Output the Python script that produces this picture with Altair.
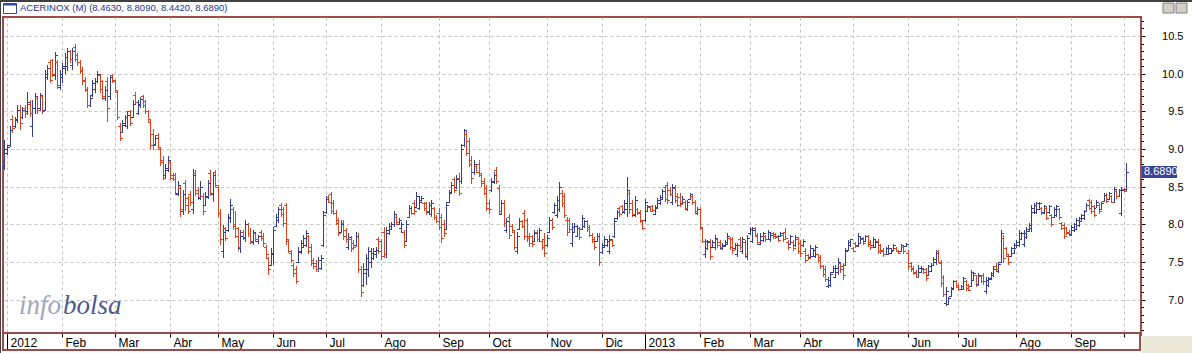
import altair as alt
import pandas as pd

# ---------------- text ----------------
title_text = "ACERINOX (M) (8.4630, 8.8090, 8.4420, 8.6890)"
last_close = 8.689
last_label = "8.6890"
wm_info = "info"
wm_bolsa = "bolsa"

# ---------------- OHLC sessions: (high, low, open, close) ----------------
# 30 Dec 2011 - 17 Feb 2012
seg_01 = [
    (9.12, 8.72, 8.78, 9.00), (9.05, 8.92, 8.95, 9.02), (9.30, 9.03, 9.05, 9.25), (9.45, 9.21, 9.40, 9.28),
    (9.43, 9.28, 9.30, 9.40), (9.58, 9.34, 9.38, 9.52), (9.58, 9.25, 9.52, 9.35), (9.56, 9.40, 9.42, 9.52),
    (9.58, 9.41, 9.55, 9.48), (9.76, 9.45, 9.50, 9.62), (9.65, 9.43, 9.60, 9.48), (9.65, 9.16, 9.30, 9.55),
    (9.74, 9.47, 9.55, 9.70), (9.70, 9.47, 9.68, 9.52), (9.74, 9.50, 9.55, 9.72), (9.72, 9.47, 9.70, 9.50),
    (10.05, 9.50, 9.52, 10.00), (10.11, 9.92, 9.95, 10.08), (10.18, 9.87, 10.15, 9.92), (10.20, 9.96, 10.18, 10.00),
    (10.29, 9.92, 9.98, 10.25), (10.18, 9.80, 10.15, 9.85), (10.05, 9.78, 9.82, 10.00), (10.14, 9.87, 9.95, 10.10),
    (10.27, 10.00, 10.08, 10.22), (10.34, 10.03, 10.10, 10.30), (10.31, 10.14, 10.30, 10.20), (10.34, 10.05, 10.12, 10.30),
    (10.40, 10.16, 10.35, 10.20), (10.27, 10.10, 10.25, 10.15), (10.18, 10.00, 10.15, 10.03), (10.09, 9.85, 10.05, 9.90),
    (9.96, 9.75, 9.92, 9.80), (9.82, 9.54, 9.78, 9.58), (9.72, 9.56, 9.58, 9.68), (9.92, 9.69, 9.72, 9.88),
    (9.94, 9.74, 9.80, 9.90),
]
# Feb - Apr 2012
seg_02 = [
    (10.03, 9.87, 9.90, 10.00), (10.00, 9.74, 9.98, 9.80), (9.92, 9.65, 9.90, 9.70), (9.83, 9.63, 9.68, 9.78),
    (9.96, 9.36, 9.90, 9.55), (9.98, 9.65, 9.70, 9.95), (10.00, 9.87, 9.98, 9.92), (9.92, 9.74, 9.90, 9.78),
    (9.78, 9.38, 9.75, 9.42), (9.34, 9.10, 9.30, 9.15), (9.38, 9.21, 9.22, 9.35), (9.45, 9.30, 9.32, 9.42),
    (9.50, 9.27, 9.30, 9.45), (9.52, 9.30, 9.50, 9.35), (9.65, 9.41, 9.42, 9.60), (9.76, 9.58, 9.72, 9.62),
    (9.65, 9.45, 9.48, 9.60), (9.69, 9.54, 9.58, 9.66), (9.72, 9.54, 9.70, 9.58), (9.65, 9.47, 9.63, 9.50),
    (9.52, 9.36, 9.50, 9.40), (9.39, 9.00, 9.36, 9.05), (9.27, 8.99, 9.20, 9.05), (9.18, 9.05, 9.07, 9.15),
    (9.21, 8.99, 9.18, 9.02), (9.02, 8.78, 9.00, 8.82), (8.90, 8.59, 8.85, 8.62), (8.80, 8.62, 8.65, 8.75),
    (8.90, 8.70, 8.72, 8.85), (8.85, 8.59, 8.82, 8.62), (8.68, 8.57, 8.66, 8.60), (8.68, 8.39, 8.65, 8.42),
    (8.57, 8.37, 8.40, 8.52), (8.52, 8.10, 8.48, 8.20), (8.45, 8.12, 8.18, 8.40), (8.59, 8.17, 8.55, 8.25),
    (8.37, 8.13, 8.35, 8.18), (8.44, 8.24, 8.40, 8.30), (8.74, 8.14, 8.20, 8.65), (8.72, 8.37, 8.68, 8.42),
    (8.50, 8.32, 8.45, 8.36),
]
# Apr - Jun 2012
seg_03 = [
    (8.57, 8.32, 8.35, 8.50), (8.41, 8.12, 8.38, 8.18), (8.43, 8.24, 8.26, 8.38), (8.59, 8.34, 8.36, 8.55),
    (8.72, 8.37, 8.68, 8.42), (8.70, 8.30, 8.40, 8.65), (8.72, 8.50, 8.70, 8.52), (8.52, 8.10, 8.50, 8.15),
    (8.20, 7.72, 8.15, 7.80), (7.99, 7.55, 7.65, 7.90), (7.97, 7.78, 7.95, 7.82), (8.14, 7.90, 7.92, 8.10),
    (8.33, 8.01, 8.08, 8.25), (8.23, 7.92, 8.20, 7.98), (8.18, 7.82, 8.00, 7.85), (7.97, 7.64, 7.95, 7.70),
    (7.92, 7.62, 7.68, 7.85), (7.92, 7.79, 7.90, 7.83), (8.06, 7.76, 7.82, 8.00), (8.01, 7.83, 8.00, 7.88),
    (7.95, 7.74, 7.88, 7.78), (7.92, 7.73, 7.76, 7.90), (7.90, 7.76, 7.88, 7.80), (7.86, 7.74, 7.78, 7.84),
    (7.92, 7.78, 7.90, 7.82), (7.88, 7.70, 7.85, 7.75), (7.72, 7.55, 7.70, 7.60), (7.57, 7.33, 7.55, 7.40),
    (7.68, 7.44, 7.46, 7.62), (7.97, 7.46, 7.60, 7.92), (8.14, 7.97, 7.98, 8.10), (8.23, 8.01, 8.05, 8.20),
    (8.28, 8.10, 8.26, 8.14), (8.23, 7.97, 8.20, 8.02), (8.28, 7.72, 8.25, 7.80), (7.80, 7.62, 7.78, 7.65),
    (7.66, 7.48, 7.62, 7.52), (7.48, 7.30, 7.46, 7.35), (7.44, 7.21, 7.40, 7.25),
]
# Jun - Aug 2012
seg_04 = [
    (7.70, 7.48, 7.50, 7.65), (7.79, 7.61, 7.63, 7.75), (7.86, 7.68, 7.70, 7.82), (7.92, 7.70, 7.72, 7.88),
    (7.86, 7.61, 7.85, 7.65), (7.74, 7.44, 7.70, 7.48), (7.55, 7.41, 7.52, 7.45), (7.52, 7.37, 7.48, 7.40),
    (7.57, 7.37, 7.40, 7.52), (7.59, 7.39, 7.42, 7.55), (8.17, 7.70, 7.72, 8.12), (8.37, 8.14, 8.16, 8.34),
    (8.39, 8.28, 8.36, 8.30), (8.43, 8.14, 8.40, 8.18), (8.32, 8.12, 8.28, 8.15), (8.19, 7.99, 8.15, 8.02),
    (8.08, 7.84, 8.05, 7.88), (8.06, 7.88, 7.90, 8.00), (8.06, 7.79, 8.02, 7.85), (7.95, 7.75, 7.92, 7.80),
    (7.88, 7.66, 7.70, 7.83), (7.85, 7.63, 7.80, 7.68), (7.79, 7.66, 7.75, 7.70), (7.90, 7.70, 7.72, 7.85),
    (7.88, 7.35, 7.85, 7.40), (7.44, 7.04, 7.40, 7.10), (7.48, 7.17, 7.20, 7.40), (7.61, 7.19, 7.35, 7.55),
    (7.70, 7.30, 7.40, 7.65), (7.68, 7.42, 7.50, 7.62), (7.68, 7.52, 7.55, 7.65), (7.70, 7.55, 7.60, 7.66),
    (7.83, 7.61, 7.80, 7.65), (7.80, 7.52, 7.78, 7.58), (7.97, 7.55, 7.90, 7.60), (7.97, 7.55, 7.60, 7.92),
    (8.01, 7.86, 7.88, 7.98), (8.03, 7.92, 7.94, 8.00), (8.17, 7.97, 8.00, 8.14), (8.12, 7.99, 8.10, 8.03),
    (8.08, 7.99, 8.00, 8.06),
]
# Aug - Oct 2012
seg_05 = [
    (8.03, 7.88, 7.95, 8.00), (7.92, 7.68, 7.90, 7.72), (8.06, 7.77, 7.78, 8.00), (8.26, 8.08, 8.10, 8.22),
    (8.24, 8.12, 8.22, 8.15), (8.32, 8.12, 8.28, 8.18), (8.43, 8.21, 8.23, 8.38), (8.37, 8.19, 8.22, 8.32),
    (8.37, 8.28, 8.30, 8.35), (8.30, 8.17, 8.28, 8.22), (8.30, 8.12, 8.28, 8.18), (8.30, 8.14, 8.16, 8.26),
    (8.32, 8.10, 8.14, 8.28), (8.23, 8.06, 8.22, 8.10), (8.12, 8.01, 8.10, 8.04), (8.21, 7.92, 8.15, 7.96),
    (8.14, 7.75, 8.10, 7.82), (8.06, 7.83, 8.00, 7.88), (8.30, 7.92, 7.94, 8.26), (8.45, 8.28, 8.30, 8.42),
    (8.56, 8.41, 8.43, 8.52), (8.63, 8.41, 8.60, 8.45), (8.65, 8.47, 8.50, 8.60), (8.68, 8.37, 8.62, 8.42),
    (9.07, 8.54, 8.58, 9.00), (9.27, 9.03, 9.05, 9.25), (9.25, 8.90, 9.20, 8.95), (9.14, 8.76, 9.10, 8.80),
    (8.90, 8.54, 8.85, 8.62), (8.85, 8.65, 8.70, 8.80), (8.80, 8.68, 8.78, 8.70), (8.85, 8.63, 8.80, 8.68),
    (8.68, 8.50, 8.65, 8.55), (8.61, 8.39, 8.58, 8.42), (8.52, 8.17, 8.48, 8.22), (8.32, 8.14, 8.28, 8.20),
    (8.61, 8.43, 8.45, 8.58), (8.70, 8.54, 8.56, 8.66), (8.76, 8.54, 8.72, 8.58),
]
# Oct - Nov 2012
seg_06 = [
    (8.52, 8.14, 8.48, 8.18), (8.32, 8.12, 8.14, 8.28), (8.32, 7.97, 8.28, 8.02), (8.08, 7.88, 7.92, 8.04),
    (8.14, 7.81, 8.10, 7.86), (8.00, 7.90, 7.98, 7.93), (7.92, 7.66, 7.90, 7.70), (7.90, 7.61, 7.65, 7.85),
    (8.08, 7.92, 7.94, 8.04), (8.06, 7.95, 8.04, 7.98), (8.19, 7.79, 8.15, 7.85), (8.08, 7.77, 8.05, 7.82),
    (7.88, 7.70, 7.85, 7.75), (7.86, 7.70, 7.84, 7.74), (7.92, 7.77, 7.78, 7.88), (7.92, 7.77, 7.90, 7.80),
    (7.95, 7.77, 7.80, 7.92), (7.79, 7.66, 7.78, 7.70), (7.88, 7.57, 7.80, 7.62), (7.86, 7.70, 7.72, 7.82),
    (8.10, 7.88, 7.90, 8.06), (8.08, 7.92, 8.05, 7.96), (8.28, 8.14, 8.16, 8.25), (8.37, 8.08, 8.12, 8.32),
    (8.56, 8.16, 8.20, 8.50), (8.45, 8.23, 8.42, 8.28), (8.41, 8.08, 8.38, 8.12), (8.10, 7.84, 8.06, 7.90),
    (8.08, 7.90, 8.05, 7.94), (8.01, 7.70, 7.75, 7.96), (8.01, 7.88, 7.90, 7.98), (7.99, 7.83, 7.85, 7.95),
    (7.97, 7.79, 7.95, 7.83), (8.12, 7.92, 7.94, 8.08), (8.06, 7.95, 7.98, 8.04), (8.06, 7.90, 8.04, 7.94),
    (7.99, 7.83, 7.96, 7.86), (7.88, 7.75, 7.86, 7.78), (7.83, 7.66, 7.80, 7.70), (7.88, 7.77, 7.78, 7.85),
    (7.88, 7.44, 7.85, 7.50),
]
# Dec 2012 - Jan 2013
seg_07 = [
    (7.75, 7.61, 7.63, 7.72), (7.84, 7.68, 7.70, 7.80), (7.81, 7.70, 7.72, 7.78), (7.86, 7.61, 7.65, 7.80),
    (7.81, 7.70, 7.79, 7.73), (8.08, 7.82, 7.85, 8.04), (8.19, 8.06, 8.08, 8.16), (8.23, 8.10, 8.21, 8.14),
    (8.26, 8.14, 8.24, 8.17), (8.32, 8.14, 8.16, 8.28), (8.63, 8.10, 8.20, 8.45), (8.45, 8.14, 8.42, 8.20),
    (8.32, 8.10, 8.28, 8.14), (8.37, 8.10, 8.12, 8.32), (8.21, 8.12, 8.20, 8.15), (8.19, 8.01, 8.16, 8.05),
    (8.06, 7.92, 8.04, 7.95), (8.33, 8.03, 8.05, 8.30), (8.26, 8.16, 8.18, 8.24), (8.24, 8.16, 8.23, 8.18),
    (8.26, 8.16, 8.24, 8.19), (8.26, 8.12, 8.14, 8.22), (8.35, 8.21, 8.23, 8.32), (8.39, 8.26, 8.28, 8.36),
    (8.47, 8.32, 8.34, 8.44), (8.52, 8.30, 8.50, 8.34), (8.56, 8.27, 8.52, 8.32), (8.50, 8.37, 8.46, 8.40),
    (8.54, 8.26, 8.30, 8.50), (8.52, 8.28, 8.48, 8.32), (8.41, 8.23, 8.38, 8.26), (8.41, 8.23, 8.36, 8.27),
    (8.37, 8.26, 8.28, 8.34), (8.32, 8.19, 8.30, 8.22), (8.32, 8.17, 8.20, 8.30), (8.41, 8.32, 8.33, 8.40),
    (8.39, 8.26, 8.38, 8.30), (8.32, 8.14, 8.30, 8.18), (8.23, 8.12, 8.15, 8.20), (8.23, 7.92, 8.20, 7.96),
    (7.97, 7.75, 7.95, 7.78),
]
# Feb - Mar 2013
seg_08 = [
    (7.81, 7.55, 7.60, 7.78), (7.79, 7.66, 7.68, 7.76), (7.81, 7.52, 7.78, 7.58), (7.79, 7.68, 7.70, 7.76),
    (7.86, 7.66, 7.70, 7.82), (7.81, 7.68, 7.80, 7.72), (7.79, 7.66, 7.77, 7.70), (7.75, 7.66, 7.68, 7.73),
    (7.79, 7.70, 7.71, 7.77), (7.88, 7.72, 7.74, 7.85), (7.83, 7.66, 7.82, 7.70), (7.83, 7.61, 7.80, 7.66),
    (7.75, 7.66, 7.68, 7.73), (7.75, 7.57, 7.60, 7.72), (7.83, 7.66, 7.80, 7.70), (7.83, 7.61, 7.65, 7.80),
    (7.79, 7.55, 7.76, 7.60), (7.86, 7.52, 7.58, 7.82), (7.97, 7.86, 7.88, 7.94), (7.97, 7.75, 7.78, 7.92),
    (7.97, 7.84, 7.95, 7.86), (7.88, 7.72, 7.85, 7.76), (7.88, 7.72, 7.74, 7.85), (7.90, 7.77, 7.79, 7.88),
    (7.86, 7.77, 7.85, 7.80), (7.92, 7.79, 7.81, 7.90), (7.88, 7.77, 7.80, 7.86), (7.90, 7.81, 7.89, 7.84),
    (7.88, 7.81, 7.87, 7.83), (7.86, 7.77, 7.85, 7.79), (7.90, 7.83, 7.84, 7.88), (7.88, 7.77, 7.86, 7.80),
    (7.95, 7.79, 7.90, 7.82), (7.79, 7.66, 7.77, 7.70), (7.86, 7.72, 7.74, 7.84), (7.79, 7.64, 7.77, 7.68),
    (7.86, 7.70, 7.72, 7.83), (7.83, 7.61, 7.80, 7.65), (7.79, 7.57, 7.75, 7.62),
]
# Apr - May 2013
seg_09 = [
    (7.81, 7.70, 7.72, 7.78), (7.68, 7.48, 7.65, 7.52), (7.61, 7.52, 7.59, 7.55), (7.72, 7.55, 7.57, 7.68),
    (7.68, 7.57, 7.58, 7.66), (7.72, 7.55, 7.58, 7.70), (7.61, 7.48, 7.60, 7.52), (7.59, 7.41, 7.57, 7.45),
    (7.46, 7.30, 7.44, 7.34), (7.44, 7.23, 7.40, 7.27), (7.30, 7.15, 7.18, 7.26), (7.37, 7.17, 7.20, 7.34),
    (7.44, 7.35, 7.36, 7.42), (7.46, 7.28, 7.30, 7.42), (7.55, 7.33, 7.36, 7.50), (7.50, 7.35, 7.48, 7.40),
    (7.48, 7.26, 7.45, 7.32), (7.68, 7.44, 7.46, 7.64), (7.79, 7.64, 7.66, 7.76), (7.81, 7.70, 7.72, 7.80),
    (7.70, 7.63, 7.69, 7.65), (7.77, 7.68, 7.75, 7.71), (7.88, 7.70, 7.72, 7.84), (7.84, 7.74, 7.75, 7.82),
    (7.83, 7.72, 7.80, 7.75), (7.86, 7.77, 7.78, 7.84), (7.86, 7.70, 7.84, 7.74), (7.79, 7.66, 7.77, 7.70),
    (7.83, 7.70, 7.72, 7.80), (7.79, 7.68, 7.70, 7.76), (7.81, 7.61, 7.78, 7.65), (7.74, 7.61, 7.72, 7.64),
    (7.68, 7.57, 7.66, 7.60), (7.70, 7.59, 7.60, 7.68), (7.72, 7.59, 7.61, 7.68), (7.68, 7.61, 7.62, 7.66),
    (7.74, 7.64, 7.65, 7.72), (7.70, 7.63, 7.69, 7.65), (7.66, 7.61, 7.65, 7.62), (7.74, 7.63, 7.64, 7.72),
]
# Jun - Jul 2013
seg_10 = [
    (7.72, 7.61, 7.70, 7.64), (7.75, 7.70, 7.71, 7.74), (7.66, 7.39, 7.62, 7.45), (7.50, 7.37, 7.48, 7.40),
    (7.44, 7.32, 7.42, 7.35), (7.39, 7.28, 7.37, 7.30), (7.46, 7.28, 7.30, 7.42), (7.44, 7.35, 7.36, 7.42),
    (7.42, 7.34, 7.41, 7.36), (7.42, 7.24, 7.40, 7.28), (7.46, 7.31, 7.33, 7.44), (7.48, 7.37, 7.38, 7.46),
    (7.57, 7.44, 7.46, 7.54), (7.66, 7.46, 7.50, 7.62), (7.66, 7.48, 7.64, 7.50), (7.52, 7.17, 7.48, 7.22),
    (7.33, 7.04, 7.30, 7.08), (7.17, 6.91, 6.95, 7.12), (7.04, 6.93, 6.94, 7.02), (7.17, 7.04, 7.05, 7.15),
    (7.26, 7.13, 7.14, 7.24), (7.26, 7.15, 7.24, 7.17), (7.21, 7.12, 7.20, 7.14), (7.20, 7.13, 7.14, 7.18),
    (7.30, 7.13, 7.14, 7.28), (7.26, 7.12, 7.24, 7.15), (7.21, 7.11, 7.20, 7.13), (7.39, 7.17, 7.18, 7.36),
    (7.37, 7.24, 7.26, 7.35), (7.33, 7.17, 7.32, 7.20), (7.35, 7.19, 7.21, 7.33), (7.33, 7.22, 7.31, 7.24),
    (7.35, 7.20, 7.33, 7.25), (7.30, 7.08, 7.12, 7.26), (7.30, 7.17, 7.20, 7.28), (7.37, 7.26, 7.27, 7.35),
    (7.44, 7.30, 7.32, 7.40), (7.48, 7.36, 7.45, 7.40), (7.50, 7.35, 7.38, 7.47), (7.92, 7.48, 7.50, 7.88),
]
# Jul - Sep 2013
seg_11 = [
    (7.86, 7.48, 7.82, 7.55), (7.70, 7.57, 7.68, 7.60), (7.61, 7.46, 7.58, 7.50), (7.70, 7.57, 7.58, 7.68),
    (7.75, 7.61, 7.62, 7.72), (7.79, 7.68, 7.69, 7.77), (7.92, 7.70, 7.72, 7.88), (7.90, 7.79, 7.80, 7.88),
    (7.92, 7.70, 7.74, 7.88), (7.97, 7.81, 7.83, 7.94), (8.01, 7.90, 7.91, 7.99), (8.26, 7.90, 7.95, 8.22),
    (8.28, 8.14, 8.16, 8.26), (8.30, 8.14, 8.16, 8.28), (8.30, 8.19, 8.20, 8.28), (8.23, 8.12, 8.22, 8.15),
    (8.26, 8.14, 8.16, 8.24), (8.23, 8.05, 8.22, 8.08), (8.26, 8.14, 8.16, 8.24), (8.14, 7.97, 8.12, 8.00),
    (8.23, 8.08, 8.10, 8.20), (8.26, 8.10, 8.12, 8.24), (8.21, 8.06, 8.20, 8.10), (8.03, 7.92, 8.02, 7.95),
    (8.01, 7.81, 7.99, 7.85), (7.97, 7.86, 7.95, 7.88), (7.92, 7.84, 7.90, 7.86), (7.99, 7.86, 7.87, 7.97),
    (8.01, 7.90, 7.92, 8.00), (8.08, 7.92, 7.94, 8.06), (8.10, 7.97, 7.99, 8.08), (8.14, 8.03, 8.04, 8.12),
    (8.19, 8.06, 8.08, 8.17), (8.28, 8.17, 8.18, 8.26), (8.34, 8.19, 8.32, 8.22), (8.32, 8.14, 8.30, 8.18),
    (8.26, 8.10, 8.24, 8.12), (8.32, 8.21, 8.22, 8.30), (8.28, 8.14, 8.26, 8.18),
]
# Sep - 2 Oct 2013
seg_12 = [
    (8.30, 8.19, 8.20, 8.28), (8.41, 8.30, 8.31, 8.39), (8.41, 8.28, 8.39, 8.31), (8.43, 8.32, 8.33, 8.41),
    (8.39, 8.28, 8.37, 8.30), (8.50, 8.28, 8.30, 8.47), (8.45, 8.34, 8.44, 8.37), (8.47, 8.36, 8.38, 8.45),
    (8.49, 8.11, 8.15, 8.46), (8.48, 8.43, 8.47, 8.44), (8.809, 8.442, 8.463, 8.689),
]

# ---------------- axes: month ticks (session index of first session of month) ----------------
month_tick_idx = [1, 23, 44, 66, 85, 107, 128, 150, 173, 193, 216, 238,
                  255, 277, 297, 317, 338, 360, 380, 403, 425, 446]
month_tick_lbl = ["2012", "Feb", "Mar", "Abr", "May", "Jun", "Jul", "Ago", "Sep", "Oct", "Nov", "Dic",
                  "2013", "Feb", "Mar", "Abr", "May", "Jun", "Jul", "Ago", "Sep", ""]
year_tick_idx = [1, 255]
price_levels = [7.0, 7.5, 8.0, 8.5, 9.0, 9.5, 10.0, 10.5]
minor_levels = [6.6, 6.7, 6.8, 6.9, 7.1, 7.2, 7.3, 7.4, 7.6, 7.7, 7.8, 7.9, 8.1, 8.2, 8.3, 8.4,
                8.6, 8.7, 8.8, 8.9, 9.1, 9.2, 9.3, 9.4, 9.6, 9.7, 9.8, 9.9, 10.1, 10.2, 10.3, 10.4,
                10.6, 10.7]

# ---------------- styling ----------------
BLUE = "#353E93"
RED = "#DA4520"
FRAME = "#9C4A4A"
GRID = "#C2C2C2"
FONT = "Liberation Sans"
W, H = 1138, 316
X_DOMAIN = [-0.594, 452.79]
Y_DOMAIN = [6.556, 10.752]

rows = seg_01 + seg_02 + seg_03 + seg_04 + seg_05 + seg_06 + seg_07 + seg_08 + seg_09 + seg_10 + seg_11 + seg_12
df = pd.DataFrame(rows, columns=["high", "low", "open", "close"])
df["idx"] = list(range(len(df)))
df["dir"] = ["up" if c >= o else "down" for o, c in zip(df["open"], df["close"])]

label_expr = "''"
for v, l in reversed(list(zip(month_tick_idx, month_tick_lbl))):
    label_expr = f"datum.value == {v} ? '{l}' : {label_expr}"

xs = alt.Scale(domain=X_DOMAIN, nice=False, zero=False, round=True)
ys = alt.Scale(domain=Y_DOMAIN, nice=False, zero=False, round=True)
color = alt.Color("dir:N", scale=alt.Scale(domain=["up", "down"], range=[BLUE, RED]), legend=None)

x_axis = alt.Axis(values=month_tick_idx, labelExpr=label_expr, grid=True, gridColor=GRID,
                  gridDash=[3, 3], gridWidth=1, tickColor="#000000", tickSize=4, tickWidth=1,
                  labelAlign="left", labelOffset=3, labelBaseline="top", labelPadding=0,
                  labelFont=FONT, labelFontSize=12, labelColor="#000000", labelFlush=False,
                  labelOverlap=False, domain=False, title=None)
y_axis = alt.Axis(orient="right", values=price_levels, format=".1f", grid=True, gridColor=GRID,
                  gridDash=[3, 3], gridWidth=1, tickColor="#000000", tickSize=4, tickWidth=1,
                  labelAlign="right", labelPadding=38, labelBaseline="middle", labelFont=FONT,
                  labelFontSize=11, labelColor="#000000", labelOverlap=False, domain=False, title=None)


def X(field):
    return alt.X(field, scale=xs, axis=x_axis)


def Y(field):
    return alt.Y(field, scale=ys, axis=y_axis)


base = alt.Chart(df)
hl = base.mark_rule(strokeWidth=1, xOffset=0.5).encode(
    x=X("idx:Q"), y=Y("low:Q"), y2="high:Q", color=color,
)
opens = base.transform_calculate(xo="datum.idx - 0.8").mark_rule(strokeWidth=1, yOffset=0.5).encode(
    x=X("xo:Q"), x2="idx:Q", y=Y("open:Q"), color=color,
)
closes = base.transform_calculate(xc="datum.idx + 1.2").mark_rule(strokeWidth=1, yOffset=0.5).encode(
    x=X("idx:Q"), x2="xc:Q", y=Y("close:Q"), color=color,
)

one = pd.DataFrame({"k": [0]})
minor = alt.Chart(pd.DataFrame({"level": minor_levels})).mark_rule(color="#000000", strokeWidth=1, yOffset=0.5).encode(
    x=alt.value(W), x2=alt.value(W + 3), y=Y("level:Q")
)
year_lines = alt.Chart(pd.DataFrame({"idx": year_tick_idx})).mark_rule(color="#000000", strokeWidth=1, xOffset=0.5).encode(
    x=X("idx:Q"), y=alt.value(H + 1), y2=alt.value(H + 17)
)
strip = alt.Chart(one).mark_rect(fillOpacity=0, stroke=FRAME, strokeWidth=2).encode(
    x=alt.value(0), x2=alt.value(W - 1), y=alt.value(H), y2=alt.value(H + 17)
)
corner = alt.Chart(one).mark_rect(fill="#ECE9D8").encode(
    x=alt.value(W + 1), x2=alt.value(W + 54), y=alt.value(H + 3), y2=alt.value(H + 20)
)
right_edge = alt.Chart(one).mark_rule(color=FRAME, strokeWidth=2).encode(
    x=alt.value(W), y=alt.value(0), y2=alt.value(H + 3)
)
top_line = alt.Chart(one).mark_rule(color="#404040", strokeWidth=2).encode(
    x=alt.value(-3), x2=alt.value(W + 54), y=alt.value(-16)
)
left_line = alt.Chart(one).mark_rule(color="#404040", strokeWidth=1).encode(
    x=alt.value(-2.5), y=alt.value(-17), y2=alt.value(H + 20)
)
icon = alt.Chart(one).mark_rect(fill="#FFFFFF", stroke="#2B4DA8", strokeWidth=1).encode(
    x=alt.value(0.5), x2=alt.value(13.5), y=alt.value(-13.5), y2=alt.value(-3.5)
)
icon_bar = alt.Chart(one).mark_rule(color="#2B4DA8", strokeWidth=2).encode(
    x=alt.value(0.5), x2=alt.value(13.5), y=alt.value(-12.5)
)
button1 = alt.Chart(one).mark_rect(fill="#D4D0C8", stroke="#808080", strokeWidth=1).encode(
    x=alt.value(1160), x2=alt.value(1171), y=alt.value(-14), y2=alt.value(-4)
)
button2 = alt.Chart(one).mark_rect(fill="#D4D0C8", stroke="#808080", strokeWidth=1).encode(
    x=alt.value(1173), x2=alt.value(1184), y=alt.value(-14), y2=alt.value(-4)
)
title = alt.Chart(pd.DataFrame({"t": [title_text]})).mark_text(
    align="left", baseline="alphabetic", font=FONT, fontSize=9.5, color="#27358A"
).encode(x=alt.value(17), y=alt.value(-6), text="t:N")

tag_df = pd.DataFrame({"close": [last_close], "t": [last_label]})
tag = alt.Chart(tag_df).transform_calculate(
    ya="datum.close + 0.08", yb="datum.close - 0.08"
).mark_rect(fill="#3A4496").encode(
    x=alt.value(W + 1), x2=alt.value(W + 36), y=Y("ya:Q"), y2="yb:Q"
)
tag_text = alt.Chart(tag_df).mark_text(
    align="left", baseline="middle", font=FONT, fontSize=11, color="#FFFFFF"
).encode(x=alt.value(W + 3), y=Y("close:Q"), text="t:N")

wm1 = alt.Chart(pd.DataFrame({"t": [wm_info]})).mark_text(
    align="left", baseline="alphabetic", font="Liberation Serif", fontStyle="italic", fontSize=27, color="#A2A6C2"
).encode(x=alt.value(16), y=alt.value(297), text="t:N")
wm2 = alt.Chart(pd.DataFrame({"t": [wm_bolsa]})).mark_text(
    align="left", baseline="alphabetic", font="Liberation Serif", fontStyle="italic", fontSize=27, color="#4D5A91"
).encode(x=alt.value(60), y=alt.value(297), text="t:N")

chart = alt.layer(
    hl, opens, closes, wm1, wm2, minor, year_lines, strip, corner, right_edge,
    top_line, left_line, icon, icon_bar, button1, button2, title, tag, tag_text
).properties(
    width=W, height=H,
    autosize=alt.AutoSizeParams(type="none"),
    padding={"left": 3, "top": 17, "right": 51, "bottom": 20},
    background="#FFFFFF",
).configure_view(stroke=FRAME, strokeWidth=2)

chart.save("out.html", embed_options={"renderer": "svg", "actions": False})
